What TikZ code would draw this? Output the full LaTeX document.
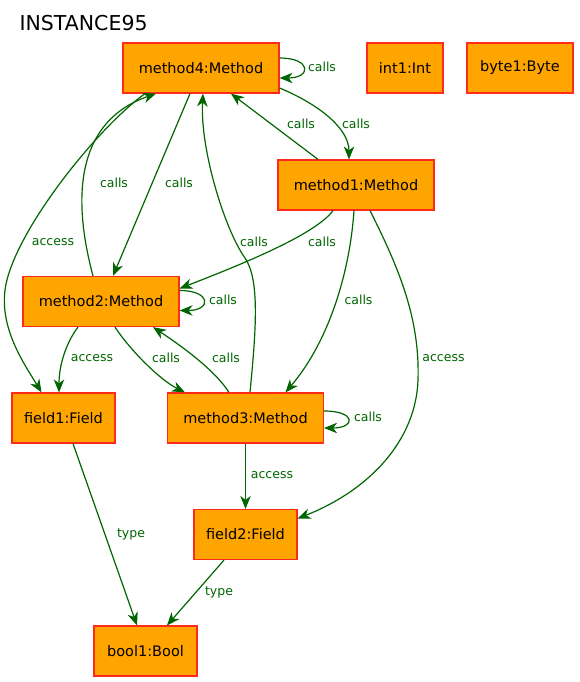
\documentclass[tikz,border=0pt]{standalone}
\usepackage{fontspec}
\setmainfont{DejaVu Sans}
\usepackage{xcolor}
\usepackage{tikz}
\usetikzlibrary{arrows.meta,positioning,calc}

\definecolor{boxfill}{HTML}{FFA500}
\definecolor{boxline}{HTML}{FF2A1A}
\definecolor{edgegreen}{HTML}{006400}

\begin{document}
\begin{tikzpicture}[
    x=1pt, y=-1pt,
    box/.style={rectangle, draw=boxline, fill=boxfill, line width=1.2pt, minimum height=50pt, inner sep=0pt, font=\fontsize{14.5}{17}\selectfont},
    lbl/.style={text=edgegreen, inner sep=0pt, font=\fontsize{12.5}{15}\selectfont},
    arrow/.style={-{Stealth[length=13pt, width=10.5pt, inset=4pt]}, draw=edgegreen, line width=1.2pt}
]
\useasboundingbox (0,0) rectangle (579,682);

% Title
\node[anchor=west, font=\fontsize{20.5}{24}\selectfont] (title) at (16,23) {INSTANCE95};

% Objects
\node[box, minimum width=156pt] (m4) at (201,68) {method4:Method};
\node[box, minimum width=76pt] (int1) at (405,68) {int1:Int};
\node[box, minimum width=106pt] (byte1) at (520,68) {byte1:Byte};
\node[box, minimum width=156pt] (m1) at (356,185) {method1:Method};
\node[box, minimum width=156pt] (m2) at (101,301.5) {method2:Method};
\node[box, minimum width=103pt] (f1) at (63.5,418) {field1:Field};
\node[box, minimum width=156pt] (m3) at (245.5,418) {method3:Method};
\node[box, minimum width=103pt] (f2) at (245.5,534.5) {field2:Field};
\node[box, minimum width=103pt] (bool1) at (145.5,651) {bool1:Bool};

% Arrows
\draw[arrow] ([yshift=10pt]m4.east) .. controls +(32,0) and +(32,0) .. ([yshift=-10pt]m4.east);
\draw[arrow] ([yshift=-20pt]m4.east) .. controls (318,104) and (349,128) .. ([xshift=-7pt]m1.north);
\draw[arrow] ([xshift=-38pt]m1.north) -- ([xshift=30pt]m4.south);
\draw[arrow] ([xshift=-11pt]m4.south) -- ([xshift=12pt]m2.north);
\draw[arrow] ([xshift=-8pt]m2.north) .. controls (70,190) and (80,120) .. ([xshift=-45pt]m4.south);
\draw[arrow] ([xshift=-56pt]m4.south) .. controls (95,130) and (12,235) .. (5,290)
    .. controls (0,330) and (25,365) .. ([xshift=-22pt]f1.north);
\draw[arrow] ([xshift=4.5pt]m3.north) .. controls (256,330) and (260,280) .. (245,258)
    .. controls (225,230) and (200,150) .. ([xshift=2pt]m4.south);
\draw[arrow] ([xshift=-23pt]m1.south) .. controls (315,235) and (240,265) .. ([yshift=13pt]m2.east);
\draw[arrow] ([xshift=-2pt]m1.south) .. controls (350,270) and (330,340) .. ([xshift=40pt]m3.north);
\draw[arrow] ([xshift=14pt]m1.south) .. controls (400,270) and (420,320) .. (418,380)
    .. controls (416,440) and (370,490) .. ([yshift=16pt]f2.east);
\draw[arrow] ([yshift=11pt]m2.east) .. controls +(32,0) and +(32,0) .. ([yshift=-9pt]m2.east);
\draw[arrow] ([xshift=-23pt]m2.south) .. controls (66,343) and (59,365) .. ([xshift=-4.5pt]f1.north);
\draw[arrow] ([xshift=14pt]m2.south) .. controls (130,350) and (160,380) .. ([xshift=-60.5pt]m3.north);
\draw[arrow] ([xshift=-16.5pt]m3.north) .. controls (215,370) and (180,345) .. ([xshift=52pt]m2.south);
\draw[arrow] ([yshift=7pt]m3.east) .. controls +(32,0) and +(32,0) .. ([yshift=-10pt]m3.east);
\draw[arrow] (m3.south) -- (f2.north);
\draw[arrow] ([xshift=9.5pt]f1.south) -- ([xshift=-8.5pt]bool1.north);
\draw[arrow] ([xshift=-21.5pt]f2.south) -- ([xshift=21.5pt]bool1.north);

% Labels
\node[lbl] (lm4self) at (322,67) {calls};
\node[lbl] (lm4m1) at (356,124) {calls};
\node[lbl] (lm1m4) at (301,124) {calls};
\node[lbl] (lm2m4) at (114,183) {calls};
\node[lbl] (lm4m2) at (179,183) {calls};
\node[lbl] (lm4f1) at (53,242) {access};
\node[lbl] (lm3m4) at (254,242) {calls};
\node[lbl] (lm1m2) at (322,242) {calls};
\node[lbl] (lm1m3) at (358.5,300) {calls};
\node[lbl] (lm1f2) at (443.5,358) {access};
\node[lbl] (lm2self) at (223,300) {calls};
\node[lbl] (lm2f1) at (92,358) {access};
\node[lbl] (lm2m3) at (166,358) {calls};
\node[lbl] (lm3m2) at (226,358) {calls};
\node[lbl] (lm3self) at (368,417) {calls};
\node[lbl] (lm3f2) at (272,475) {access};
\node[lbl] (lf1bool) at (131,534) {type};
\node[lbl] (lf2bool) at (219,592) {type};
\end{tikzpicture}
\end{document}
